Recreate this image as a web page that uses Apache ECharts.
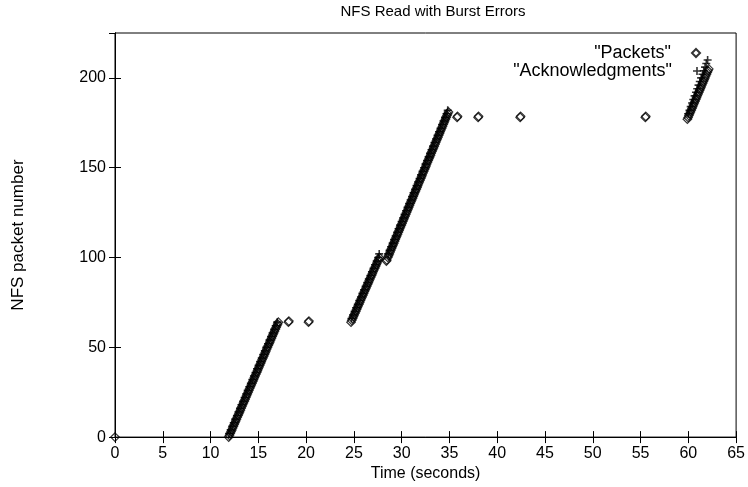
<!DOCTYPE html>
<html>
<head>
<meta charset="utf-8">
<script src="https://cdn.jsdelivr.net/npm/echarts@6/dist/echarts.min.js"></script>
<style>html,body{margin:0;padding:0;background:#fff}#c{width:748px;height:487px}</style>
</head>
<body>
<div id="c"></div>
<script>
// ---- data: [time (s), NFS packet number] ----
var packetsStart = [[0,0]];
var packetsSeg1 = [[11.90,0],[11.98,1],[12.06,2],[12.14,3],[12.23,4],[12.31,5],[12.39,6],[12.47,7],[12.55,8],[12.63,9],[12.71,10],[12.79,11],[12.88,12],[12.96,13],[13.04,14],[13.12,15],[13.20,16],[13.28,17],[13.36,18],[13.44,19],[13.53,20],[13.61,21],[13.69,22],[13.77,23],[13.85,24],[13.93,25],[14.01,26],[14.09,27],[14.18,28],[14.26,29],[14.34,30],[14.42,31],[14.50,32],[14.58,33],[14.66,34],[14.74,35],[14.83,36],[14.91,37],[14.99,38],[15.07,39],[15.15,40],[15.23,41],[15.31,42],[15.39,43],[15.48,44],[15.56,45],[15.64,46],[15.72,47],[15.80,48],[15.88,49],[15.96,50],[16.04,51],[16.13,52],[16.21,53],[16.29,54],[16.37,55],[16.45,56],[16.53,57],[16.61,58],[16.69,59],[16.78,60],[16.86,61],[16.94,62],[17.02,63],[17.10,64]];
var packetsRetx1 = [[18.15,64],[18.20,64.6],[20.25,64],[20.30,64.6]];
var packetsSeg2 = [[24.70,64],[24.78,65],[24.87,66],[24.95,67],[25.03,68],[25.11,69],[25.20,70],[25.28,71],[25.36,72],[25.44,73],[25.53,74],[25.61,75],[25.69,76],[25.77,77],[25.86,78],[25.94,79],[26.02,80],[26.10,81],[26.19,82],[26.27,83],[26.35,84],[26.43,85],[26.52,86],[26.60,87],[26.68,88],[26.76,89],[26.85,90],[26.93,91],[27.01,92],[27.09,93],[27.18,94],[27.26,95],[27.34,96],[27.42,97],[27.51,98],[27.59,99],[27.67,100]];
var packetsRetx2 = [[28.40,98],[28.45,98.6]];
var packetsSeg3 = [[28.55,100],[28.63,101],[28.71,102],[28.79,103],[28.86,104],[28.94,105],[29.02,106],[29.10,107],[29.18,108],[29.26,109],[29.33,110],[29.41,111],[29.49,112],[29.57,113],[29.65,114],[29.73,115],[29.80,116],[29.88,117],[29.96,118],[30.04,119],[30.12,120],[30.20,121],[30.27,122],[30.35,123],[30.43,124],[30.51,125],[30.59,126],[30.67,127],[30.74,128],[30.82,129],[30.90,130],[30.98,131],[31.06,132],[31.14,133],[31.21,134],[31.29,135],[31.37,136],[31.45,137],[31.53,138],[31.61,139],[31.68,140],[31.76,141],[31.84,142],[31.92,143],[32.00,144],[32.08,145],[32.15,146],[32.23,147],[32.31,148],[32.39,149],[32.47,150],[32.55,151],[32.62,152],[32.70,153],[32.78,154],[32.86,155],[32.94,156],[33.02,157],[33.09,158],[33.17,159],[33.25,160],[33.33,161],[33.41,162],[33.49,163],[33.56,164],[33.64,165],[33.72,166],[33.80,167],[33.88,168],[33.96,169],[34.03,170],[34.11,171],[34.19,172],[34.27,173],[34.35,174],[34.43,175],[34.50,176],[34.58,177],[34.66,178],[34.74,179],[34.82,180],[34.90,181]];
var packetsRetx3 = [[35.80,178],[35.85,178.6],[38.00,178],[38.05,178.6],[42.40,178],[42.45,178.6],[55.50,178],[55.55,178.6]];
var packetsSeg4 = [[59.90,177],[59.98,178],[60.06,179],[60.14,180],[60.22,181],[60.30,182],[60.38,183],[60.46,184],[60.54,185],[60.62,186],[60.70,187],[60.78,188],[60.86,189],[60.94,190],[61.02,191],[61.10,192],[61.18,193],[61.26,194],[61.34,195],[61.42,196],[61.50,197],[61.58,198],[61.66,199],[61.74,200],[61.82,201],[61.90,202],[61.98,203],[62.06,204],[62.14,205]];

var acksSeg1 = [[11.94,2],[12.11,4],[12.27,6],[12.43,8],[12.59,10],[12.76,12],[12.92,14],[13.08,16],[13.24,18],[13.41,20],[13.57,22],[13.73,24],[13.89,26],[14.06,28],[14.22,30],[14.38,32],[14.54,34],[14.71,36],[14.87,38],[15.03,40],[15.19,42],[15.36,44],[15.52,46],[15.68,48],[15.84,50],[16.01,52],[16.17,54],[16.33,56],[16.49,58],[16.66,60],[16.82,62],[16.98,64]];
var acksSeg2 = [[24.75,66],[24.91,68],[25.08,70],[25.24,72],[25.41,74],[25.57,76],[25.74,78],[25.90,80],[26.07,82],[26.23,84],[26.40,86],[26.56,88],[26.73,90],[26.89,92],[27.06,94],[27.22,96],[27.39,98],[27.55,100],[27.65,102]];
var acksSeg3 = [[28.59,102],[28.74,104],[28.90,106],[29.06,108],[29.21,110],[29.37,112],[29.53,114],[29.68,116],[29.84,118],[30.00,120],[30.15,122],[30.31,124],[30.47,126],[30.62,128],[30.78,130],[30.94,132],[31.09,134],[31.25,136],[31.41,138],[31.56,140],[31.72,142],[31.88,144],[32.03,146],[32.19,148],[32.35,150],[32.50,152],[32.66,154],[32.82,156],[32.97,158],[33.13,160],[33.29,162],[33.44,164],[33.60,166],[33.76,168],[33.91,170],[34.07,172],[34.23,174],[34.38,176],[34.54,178],[34.70,180],[34.82,182]];
var acksSeg4 = [[59.98,180],[60.12,182],[60.25,184],[60.39,186],[60.52,188],[60.66,190],[60.80,192],[60.93,194],[61.07,196],[61.20,198],[61.34,200],[61.48,202],[61.61,204],[61.75,206],[61.88,208],[62.02,210]];

var xTicks = {min: 0, max: 65, interval: 5};
var yTicks = {min: 0, max: 225, interval: 50};
var titleText = 'NFS Read with Burst Errors';
var xName = 'Time (seconds)';
var yName = 'NFS packet number';
var packetsName = '"Packets"';
var acksName = '"Acknowledgments"';

// ---- chart ----
var FONT = 'Liberation Sans, Arial, Helvetica, sans-serif';
var packets = [].concat(packetsStart, packetsSeg1, packetsRetx1, packetsSeg2, packetsRetx2, packetsSeg3, packetsRetx3, packetsSeg4);
var acks = [].concat(acksSeg1, acksSeg2, acksSeg3, acksSeg4);
var PLUS = 'path://M4,0H6V4H10V6H6V10H4V6H0V4H4Z';

var tick = {show: true, inside: true, length: 6, lineStyle: {color: '#000', width: 1}};
var line = {show: true, lineStyle: {color: '#000', width: 1}};
function txt(size, extra) { return Object.assign({color: '#000', fontSize: size, fontFamily: FONT}, extra || {}); }
var legendText = txt(18, {padding: [0, 16, 0, 0]});

var chart = echarts.init(document.getElementById('c'), null, {renderer: 'canvas'});
chart.setOption({
  animation: false,
  backgroundColor: '#fff',
  title: {text: titleText, left: 428, top: -1, textAlign: 'center',
    textStyle: txt(15, {fontWeight: 'normal'})},
  legend: [
    {data: [packetsName], orient: 'vertical', right: 42, top: 39, align: 'right',
      itemWidth: 8, itemHeight: 8, textStyle: legendText, selectedMode: false},
    {data: [acksName], orient: 'vertical', right: 42, top: 57, align: 'right',
      itemWidth: 8, itemHeight: 8, textStyle: legendText, selectedMode: false}
  ],
  grid: {left: 115, right: 9, top: 33, bottom: 43, show: true, borderColor: '#000', borderWidth: 1},
  xAxis: [
    {type: 'value', min: xTicks.min, max: xTicks.max, interval: xTicks.interval, position: 'bottom',
      axisLine: line, axisTick: tick, splitLine: {show: false},
      axisLabel: txt(16, {margin: 8}),
      name: xName, nameLocation: 'middle', nameGap: 25, nameTextStyle: txt(16)},
    {type: 'value', min: xTicks.min, max: xTicks.max, interval: xTicks.interval, position: 'top',
      axisLine: line, axisTick: tick, splitLine: {show: false}, axisLabel: {show: false}}
  ],
  yAxis: [
    {type: 'value', min: yTicks.min, max: yTicks.max, interval: yTicks.interval, position: 'left',
      axisLine: line, axisTick: tick, splitLine: {show: false},
      axisLabel: txt(16, {margin: 9, showMaxLabel: false}),
      name: yName, nameLocation: 'middle', nameGap: 88, nameRotate: 90, nameTextStyle: txt(17)},
    {type: 'value', min: yTicks.min, max: yTicks.max, interval: yTicks.interval, position: 'right',
      axisLine: line, axisTick: tick, splitLine: {show: false}, axisLabel: {show: false}}
  ],
  series: [
    {name: packetsName, type: 'scatter', xAxisIndex: 0, yAxisIndex: 0, data: packets,
      symbol: 'diamond', symbolSize: 8.5,
      itemStyle: {color: 'rgba(255,255,255,0)', borderColor: '#000', borderWidth: 1.2}},
    {name: acksName, type: 'scatter', xAxisIndex: 0, yAxisIndex: 0, data: acks,
      symbol: PLUS, symbolSize: 8, itemStyle: {color: '#000'}}
  ]
});
</script>
</body>
</html>
